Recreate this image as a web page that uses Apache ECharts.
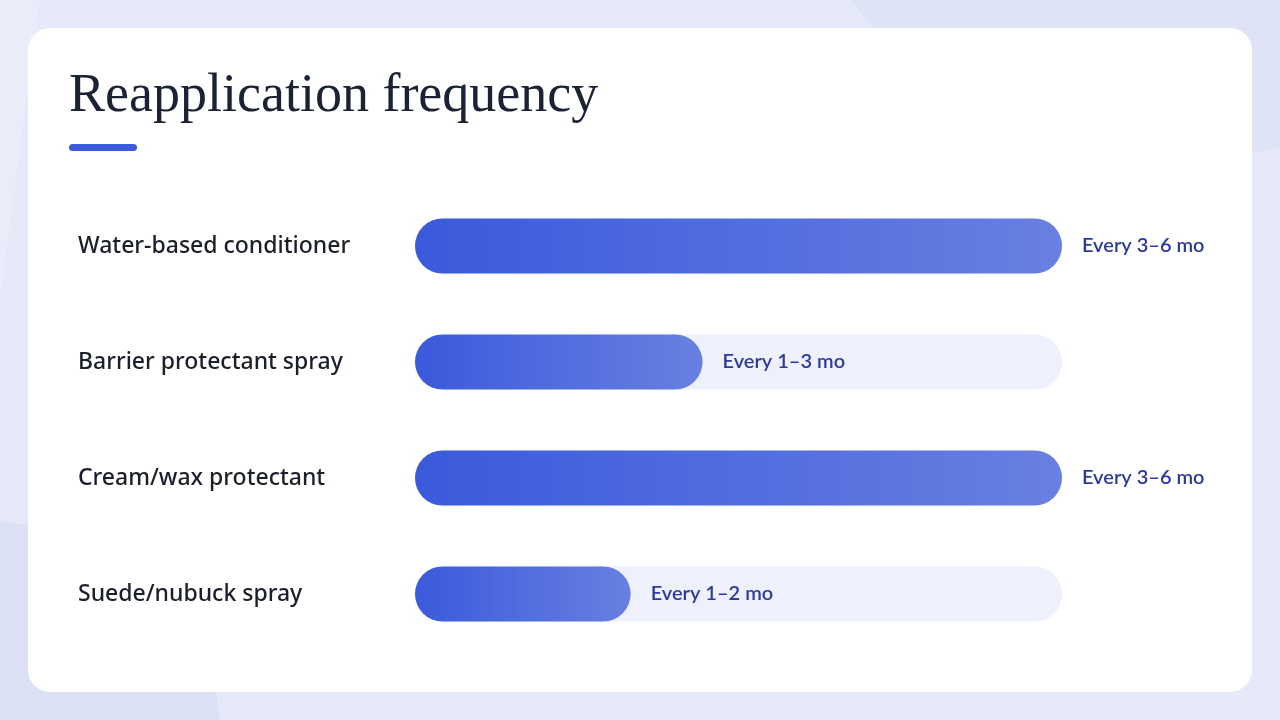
<!DOCTYPE html>
<html><head><meta charset="utf-8">
<script src="https://cdn.jsdelivr.net/npm/echarts@6/dist/echarts.min.js"></script>
<style>html,body{margin:0;padding:0;background:#e6e9f8;}#c{width:1280px;height:720px;}</style>
</head><body><div id="c"></div>
<script>
const categories = ['Water-based conditioner','Barrier protectant spray','Cream/wax protectant','Suede/nubuck spray'];
const values = [4.5, 2, 4.5, 1.5]; // midpoint of months range
const valueLabels = ['Every 3–6 mo','Every 1–3 mo','Every 3–6 mo','Every 1–2 mo'];
const titleText = 'Reapplication frequency';

const chart = echarts.init(document.getElementById('c'));
chart.setOption({
  backgroundColor: '#e6e9f8',
  animation: false,
  graphic: [
    {type:'circle', shape:{cx:1180, cy:-260, r:420}, style:{fill:'#dfe3f6'}, z:-10},
    {type:'polygon', shape:{points:[[0,520],[200,560],[220,720],[0,720]]}, style:{fill:'#dde1f5'}, z:-10},
    {type:'polygon', shape:{points:[[0,0],[0,300],[40,0]]}, style:{fill:'#e9ecf9'}, z:-10},
    {type:'rect', shape:{x:28, y:28, width:1224, height:664, r:22}, style:{fill:'#ffffff'}, z:-5},
    {type:'text', left:69, top:70, style:{text:titleText, font:'normal 54px "Liberation Serif", serif', fill:'#1a2233'}, z:5},
    {type:'rect', shape:{x:69, y:144, width:68, height:7, r:3.5}, style:{fill:'#3b5bdb'}, z:5}
  ],
  grid: {left:415, right:218, top:188, bottom:68, containLabel:false},
  xAxis: {type:'value', min:0, max:4.5, show:false},
  yAxis: {type:'category', data:categories, inverse:true,
    axisLine:{show:false}, axisTick:{show:false}, splitLine:{show:false},
    axisLabel:{align:'left', margin:337, color:'#1b1e2b', fontSize:23, fontWeight:500, padding:[5,0,0,0], fontFamily:'"Noto Sans", sans-serif'}
  },
  series: [{
    type:'bar', data:values, barWidth:55,
    showBackground:true,
    backgroundStyle:{color:'#eef0fb', borderRadius:27.5},
    itemStyle:{borderRadius:27.5, color:new echarts.graphic.LinearGradient(0,0,1,0,[{offset:0,color:'#3a5adc'},{offset:1,color:'#6880e1'}])},
    label:{show:true, position:'right', distance:20, color:'#2b3a9c', fontSize:20, fontWeight:600, padding:[3,0,0,0],
      fontFamily:'Lato, "Noto Sans", sans-serif',
      formatter: p => valueLabels[p.dataIndex]}
  }]
});
</script></body></html>
